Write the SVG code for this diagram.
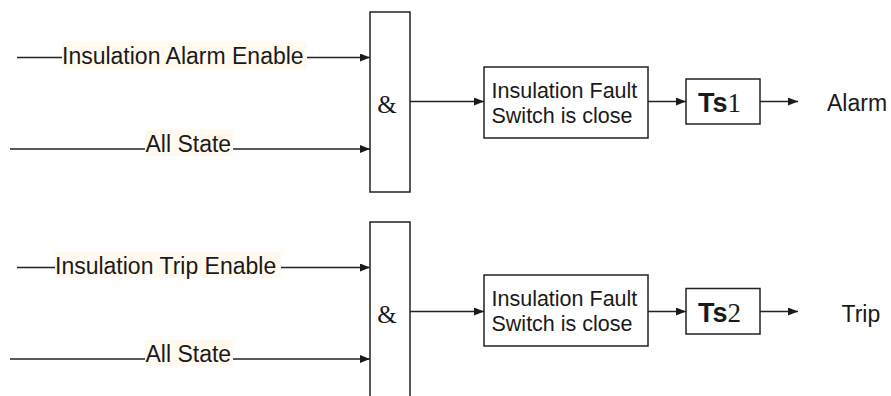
<svg xmlns="http://www.w3.org/2000/svg" width="891" height="396" viewBox="0 0 891 396">
<defs>
<marker id="arr" markerWidth="11" markerHeight="9" refX="10" refY="4" orient="auto" markerUnits="userSpaceOnUse">
<path d="M0,0 L10,4 L0,8 z" fill="#1a1a1a"/>
</marker>
<style>
.ln{stroke:#222;stroke-width:1.3;fill:none}
.box{fill:#fff;stroke:#222;stroke-width:1.5}
.lbl{font-family:"Liberation Sans",Arial,sans-serif;font-size:23px;fill:#1a1a1a}
.lblbg{fill:#fff9ef}
.bx{font-family:"Liberation Sans",Arial,sans-serif;font-size:21.5px;fill:#1a1a1a}
.amp{font-family:"Liberation Serif","Times New Roman",serif;font-size:25px;fill:#1a1a1a}
.ts{font-family:"Liberation Sans",Arial,sans-serif;font-size:27px;font-weight:bold;fill:#1a1a1a}
.num{font-family:"Liberation Serif","Times New Roman",serif;font-weight:normal}
</style>
</defs>
<rect width="891" height="396" fill="#fff"/>
<g id="connectors">
<line class="ln" x1="17" y1="57.5" x2="370" y2="57.5" marker-end="url(#arr)"/>
<line class="ln" x1="10" y1="149" x2="370" y2="149" marker-end="url(#arr)"/>
<line class="ln" x1="410" y1="101.5" x2="484" y2="101.5" marker-end="url(#arr)"/>
<line class="ln" x1="648" y1="101.5" x2="686" y2="101.5" marker-end="url(#arr)"/>
<line class="ln" x1="760" y1="101.5" x2="798" y2="101.5" marker-end="url(#arr)"/>
<line class="ln" x1="17" y1="267.5" x2="370" y2="267.5" marker-end="url(#arr)"/>
<line class="ln" x1="10" y1="359" x2="370" y2="359" marker-end="url(#arr)"/>
<line class="ln" x1="410" y1="311.5" x2="484" y2="311.5" marker-end="url(#arr)"/>
<line class="ln" x1="648" y1="311.5" x2="686" y2="311.5" marker-end="url(#arr)"/>
<line class="ln" x1="760" y1="311.5" x2="798" y2="311.5" marker-end="url(#arr)"/>
</g>
<g id="lbl-alarm-enable">
<rect class="lblbg" x="62" y="42" width="245" height="27"/>
<text class="lbl" x="62" y="63.5">Insulation Alarm Enable</text>
</g>
<g id="lbl-all-state-1">
<rect class="lblbg" x="145" y="130" width="88" height="26"/>
<text class="lbl" x="145.5" y="152">All State</text>
</g>
<g id="lbl-trip-enable">
<rect class="lblbg" x="55" y="252" width="226" height="26"/>
<text class="lbl" x="55" y="273.5">Insulation Trip Enable</text>
</g>
<g id="lbl-all-state-2">
<rect class="lblbg" x="145" y="340" width="88" height="26"/>
<text class="lbl" x="145.5" y="362">All State</text>
</g>
<g id="and1">
<rect class="box" x="370" y="12" width="40" height="180"/>
<text class="amp" x="387" y="113" text-anchor="middle">&amp;</text>
</g>
<g id="fault1">
<rect class="box" x="484" y="67" width="164" height="71"/>
<text class="bx" x="491.5" y="97.5">Insulation Fault</text>
<text class="bx" x="491.5" y="123">Switch is close</text>
</g>
<g id="ts1">
<rect class="box" x="686" y="79" width="74" height="45"/>
<text class="ts" x="698" y="111.5">Ts<tspan class="num">1</tspan></text>
</g>
<g id="alarm">
<text class="lbl" x="827" y="111">Alarm</text>
</g>
<g id="and2">
<rect class="box" x="370" y="222" width="40" height="180"/>
<text class="amp" x="387" y="323" text-anchor="middle">&amp;</text>
</g>
<g id="fault2">
<rect class="box" x="484" y="275" width="164" height="71"/>
<text class="bx" x="491.5" y="305.5">Insulation Fault</text>
<text class="bx" x="491.5" y="331">Switch is close</text>
</g>
<g id="ts2">
<rect class="box" x="686" y="288.5" width="74" height="45.5"/>
<text class="ts" x="698" y="321.5">Ts<tspan class="num">2</tspan></text>
</g>
<g id="trip">
<text class="lbl" x="841.5" y="322">Trip</text>
</g>
</svg>
